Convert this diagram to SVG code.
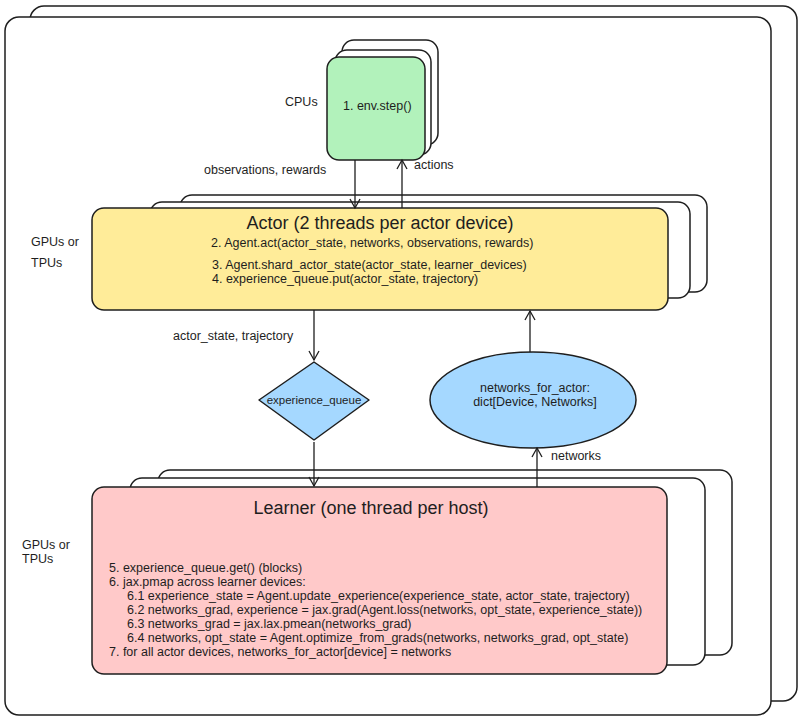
<svg xmlns="http://www.w3.org/2000/svg" width="800" height="720" viewBox="0 0 800 720">
<style>
text{font-family:"Liberation Sans",Arial,sans-serif;fill:#1e1e1e}
.s{font-size:12.5px}.t{font-size:18px}
.fr{fill:#fff;stroke:#1e1e1e;stroke-width:1.5}
.ln{stroke:#1e1e1e;stroke-width:1.3;fill:none}
</style>
<defs><marker id="a" markerWidth="12" markerHeight="12" refX="10" refY="6" orient="auto" markerUnits="userSpaceOnUse"><path d="M1,1 L10,6 L1,11" fill="none" stroke="#1e1e1e" stroke-width="1.3"/></marker></defs>
<g id="frames">
<rect class="fr" x="30" y="6" width="767" height="695" rx="14"/>
<rect class="fr" x="5" y="17" width="766" height="698" rx="14"/>
</g>
<g id="cpus">
<rect class="fr" x="342" y="40" width="96" height="105" rx="12"/>
<rect class="fr" x="335" y="50" width="96" height="105" rx="12"/>
<rect x="327" y="57" width="98" height="103" rx="12" fill="#b2f2bb" stroke="#1e1e1e" stroke-width="1.5"/>
<text class="s" x="343" y="110">1. env.step()</text>
<text class="s" x="285" y="106">CPUs</text>
</g>
<g id="actor">
<rect class="fr" x="180" y="195" width="527" height="97" rx="12"/>
<rect class="fr" x="150" y="202" width="540" height="96" rx="12"/>
<rect x="92" y="208" width="576" height="102" rx="12" fill="#ffec99" stroke="#1e1e1e" stroke-width="1.5"/>
<text class="t" x="380" y="229" text-anchor="middle">Actor (2 threads per actor device)</text>
<text class="s" x="211" y="247">2. Agent.act(actor_state, networks, observations, rewards)</text>
<text class="s" x="212" y="269">3. Agent.shard_actor_state(actor_state, learner_devices)</text>
<text class="s" x="212" y="283">4. experience_queue.put(actor_state, trajectory)</text>
<text class="s" x="31" y="246">GPUs or</text>
<text class="s" x="31" y="267">TPUs</text>
</g>
<g id="queue">
<path d="M314,362 L369,400 L314,440 L259,400 Z" fill="#a5d8ff" stroke="#1e1e1e" stroke-width="1.5" stroke-linejoin="round"/>
<text class="s" x="314" y="404" text-anchor="middle" style="font-size:11.5px">experience_queue</text>
</g>
<g id="networks">
<ellipse cx="533" cy="400" rx="103" ry="48" fill="#a5d8ff" stroke="#1e1e1e" stroke-width="1.5"/>
<text class="s" x="535" y="392" text-anchor="middle">networks_for_actor:</text>
<text class="s" x="535" y="406" text-anchor="middle">dict[Device, Networks]</text>
</g>
<g id="learner">
<rect class="fr" x="158" y="470" width="574" height="185" rx="12"/>
<rect class="fr" x="130" y="478" width="575" height="187" rx="12"/>
<rect x="92" y="487" width="575" height="187" rx="12" fill="#ffc9c9" stroke="#1e1e1e" stroke-width="1.5"/>
<text class="t" x="371" y="514" text-anchor="middle">Learner (one thread per host)</text>
<g class="s">
<text x="109" y="572">5. experience_queue.get() (blocks)</text>
<text x="109" y="586">6. jax.pmap across learner devices:</text>
<text x="127" y="600">6.1 experience_state = Agent.update_experience(experience_state, actor_state, trajectory)</text>
<text x="127" y="614">6.2 networks_grad, experience = jax.grad(Agent.loss(networks, opt_state, experience_state))</text>
<text x="127" y="628">6.3 networks_grad = jax.lax.pmean(networks_grad)</text>
<text x="127" y="642">6.4 networks, opt_state = Agent.optimize_from_grads(networks, networks_grad, opt_state)</text>
<text x="109" y="656">7. for all actor devices, networks_for_actor[device] = networks</text>
</g>
<text class="s" x="22" y="549">GPUs or</text>
<text class="s" x="22" y="563">TPUs</text>
</g>
<g id="connectors">
<line class="ln" x1="355" y1="160" x2="355" y2="208" marker-end="url(#a)"/>
<line class="ln" x1="402" y1="208" x2="402" y2="160" marker-end="url(#a)"/>
<line class="ln" x1="314" y1="310" x2="314" y2="360" marker-end="url(#a)"/>
<line class="ln" x1="314" y1="442" x2="314" y2="486" marker-end="url(#a)"/>
<line class="ln" x1="530" y1="352" x2="530" y2="311" marker-end="url(#a)"/>
<line class="ln" x1="537" y1="487" x2="537" y2="448" marker-end="url(#a)"/>
<text class="s" x="204" y="174">observations, rewards</text>
<text class="s" x="414" y="169">actions</text>
<text class="s" x="173" y="340">actor_state, trajectory</text>
<text class="s" x="551" y="460">networks</text>
</g>
</svg>
